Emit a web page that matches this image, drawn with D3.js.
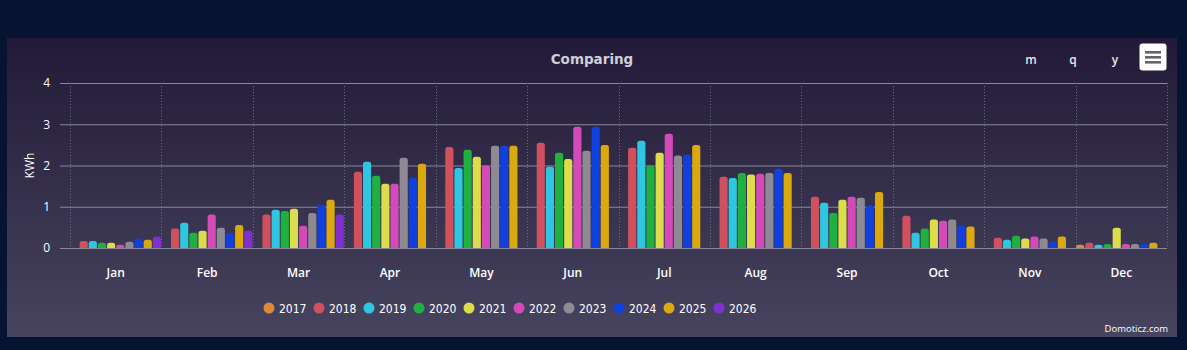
<!DOCTYPE html>
<html>
<head>
<meta charset="utf-8">
<script src="https://cdn.jsdelivr.net/npm/d3@7"></script>
<style>
  body { margin: 0; background: #071431; }
  #chart { width: 1187px; height: 350px; }
  text { font-family: "Open Sans", "Noto Sans", sans-serif; }
  .legend-label { font-family: "DejaVu Sans", sans-serif; font-stretch: condensed; }
</style>
</head>
<body>
<div id="chart"></div>
<script>
// DATA
const months = ["Jan", "Feb", "Mar", "Apr", "May", "Jun", "Jul", "Aug", "Sep", "Oct", "Nov", "Dec"];
const years = ["2017", "2018", "2019", "2020", "2021", "2022", "2023", "2024", "2025", "2026"];
const colors = ["#e0883a", "#d0505e", "#2ec6e0", "#1fb040", "#dcdc4c", "#d44ab8", "#8e8a94", "#1040e0", "#dca810", "#8030d0"];
const yTicks = [0, 1, 2, 3, 4];

const v2017 = [null, null, null, null, null, null, null, null, null, null, null, 0.08];
const v2018 = [0.17, 0.47, 0.81, 1.85, 2.45, 2.55, 2.43, 1.73, 1.24, 0.78, 0.25, 0.13];
const v2019 = [0.17, 0.61, 0.93, 2.09, 1.94, 1.97, 2.60, 1.70, 1.10, 0.37, 0.20, 0.08];
const v2020 = [0.13, 0.37, 0.90, 1.75, 2.38, 2.31, 2.00, 1.82, 0.85, 0.47, 0.30, 0.10];
const v2021 = [0.13, 0.42, 0.95, 1.56, 2.21, 2.16, 2.31, 1.78, 1.17, 0.69, 0.23, 0.49];
const v2022 = [0.08, 0.81, 0.54, 1.56, 2.00, 2.94, 2.77, 1.80, 1.24, 0.66, 0.28, 0.10];
const v2023 = [0.15, 0.49, 0.85, 2.19, 2.48, 2.36, 2.24, 1.82, 1.22, 0.69, 0.23, 0.10];
const v2024 = [0.23, 0.36, 1.05, 1.70, 2.48, 2.94, 2.26, 1.92, 1.03, 0.54, 0.15, 0.10];
const v2025 = [0.20, 0.56, 1.17, 2.04, 2.48, 2.50, 2.50, 1.82, 1.36, 0.52, 0.28, 0.13];
const v2026 = [0.27, 0.42, 0.81, null, null, null, null, null, null, null, null, null];
const series = [v2017, v2018, v2019, v2020, v2021, v2022, v2023, v2024, v2025, v2026];

const W = 1187, H = 350;
const panel = { x: 7, y: 38, w: 1170, h: 299 };
const plot = { left: 60, bandLeft: 70, right: 1167, top: 83, bottom: 248 };

const svg = d3.select("#chart").append("svg")
    .attr("width", W)
    .attr("height", H);

const defs = svg.append("defs");
const grad = defs.append("linearGradient")
    .attr("id", "bg").attr("x1", 0).attr("y1", 0).attr("x2", 0).attr("y2", 1);
grad.append("stop").attr("offset", "0%").attr("stop-color", "#221a38");
grad.append("stop").attr("offset", "100%").attr("stop-color", "#47445f");

svg.append("rect")
    .attr("x", panel.x).attr("y", panel.y)
    .attr("width", panel.w).attr("height", panel.h)
    .attr("fill", "url(#bg)");

// SCALES
const x = d3.scaleBand()
    .domain(months)
    .range([plot.bandLeft, plot.right])
    .padding(0);

const x1 = d3.scaleBand()
    .domain(years)
    .range([0, x.bandwidth()])
    .paddingInner(0.11)
    .paddingOuter(0.05);

const y = d3.scaleLinear()
    .domain([0, 4])
    .range([plot.bottom, plot.top]);

// GRID
svg.append("g").selectAll("line")
    .data(yTicks).enter().append("line")
    .attr("x1", plot.left).attr("x2", plot.right)
    .attr("y1", d => y(d) + 0.5).attr("y2", d => y(d) + 0.5)
    .attr("stroke", "#8a8898")
    .attr("stroke-width", 1);

svg.append("g").selectAll("line")
    .data(months.concat(["end"])).enter().append("line")
    .attr("x1", (d, i) => Math.round(plot.bandLeft + i * x.step()) + 0.5)
    .attr("x2", (d, i) => Math.round(plot.bandLeft + i * x.step()) + 0.5)
    .attr("y1", plot.top).attr("y2", plot.bottom)
    .attr("stroke", "#6e6a84")
    .attr("stroke-dasharray", "1,2");

// AXES
const yAxis = svg.append("g")
    .attr("transform", "translate(" + (plot.left - 8) + ",0)")
    .call(d3.axisLeft(y).tickValues(yTicks).tickSize(0).tickFormat(d3.format("d")));
yAxis.select(".domain").remove();
yAxis.selectAll("text")
    .attr("fill", "#ffffff")
    .attr("font-size", "12px")
    .attr("dx", "1");

const xAxis = svg.append("g")
    .attr("transform", "translate(0," + (plot.bottom + 17) + ")")
    .call(d3.axisBottom(x).tickSize(0));
xAxis.select(".domain").remove();
xAxis.selectAll("text")
    .attr("fill", "#ffffff")
    .attr("font-size", "12px")
    .attr("font-weight", "600");

svg.append("text")
    .attr("transform", "translate(34," + ((plot.top + plot.bottom) / 2) + ") rotate(-90)")
    .attr("text-anchor", "middle")
    .attr("fill", "#ffffff")
    .attr("font-size", "12px")
    .text("KWh");

// BARS
const r = 2.5;
function barPath(x0, w, top, bottom) {
    const rr = Math.min(r, (bottom - top));
    return "M" + x0 + "," + bottom +
        "V" + (top + rr) +
        "Q" + x0 + "," + top + " " + (x0 + rr) + "," + top +
        "H" + (x0 + w - rr) +
        "Q" + (x0 + w) + "," + top + " " + (x0 + w) + "," + (top + rr) +
        "V" + bottom + "Z";
}

const groups = svg.append("g").selectAll("g")
    .data(series).enter().append("g")
    .attr("fill", (d, i) => colors[i]);

groups.selectAll("path")
    .data((d, i) => d.map((v, m) => ({ v: v, m: months[m], yr: years[i] })).filter(p => p.v != null))
    .enter().append("path")
    .attr("d", p => barPath(x(p.m) + x1(p.yr), x1.bandwidth(), y(p.v), y(0)));

// TITLE + BUTTONS
svg.append("text")
    .attr("x", 592).attr("y", 64)
    .attr("text-anchor", "middle")
    .attr("fill", "#cfcfd8")
    .attr("font-size", "13.5px")
    .attr("font-weight", "bold")
    .style("font-family", "'DejaVu Sans', sans-serif")
    .text("Comparing");

svg.append("g").selectAll("text")
    .data(["m", "q", "y"]).enter().append("text")
    .attr("x", (d, i) => 1031 + i * 42)
    .attr("y", 64)
    .attr("text-anchor", "middle")
    .attr("fill", "#e6e6ee")
    .attr("font-size", "12px")
    .attr("font-weight", "600")
    .text(d => d);

svg.append("rect")
    .attr("x", 1139.5).attr("y", 43.5)
    .attr("width", 27).attr("height", 27).attr("rx", 3)
    .attr("fill", "#ffffff");
svg.append("g").selectAll("rect")
    .data([0, 1, 2]).enter().append("rect")
    .attr("x", 1145).attr("y", d => 51 + d * 5)
    .attr("width", 16).attr("height", 2.6)
    .attr("fill", "#666666");

// LEGEND
const legend = svg.append("g").selectAll("g")
    .data(years).enter().append("g")
    .attr("transform", (d, i) => "translate(" + (269 + i * 50) + ",308)");
legend.append("circle")
    .attr("r", 5.5)
    .attr("fill", (d, i) => colors[i]);
legend.append("text")
    .attr("class", "legend-label")
    .attr("x", 10).attr("y", 4.5)
    .attr("fill", "#ffffff")
    .attr("font-size", "12px")
    .text(d => d);

// CREDITS
svg.append("text")
    .attr("x", 1168).attr("y", 332)
    .attr("text-anchor", "end")
    .attr("fill", "#ffffff")
    .attr("font-size", "9.5px")
    .text("Domoticz.com");
</script>
</body>
</html>
